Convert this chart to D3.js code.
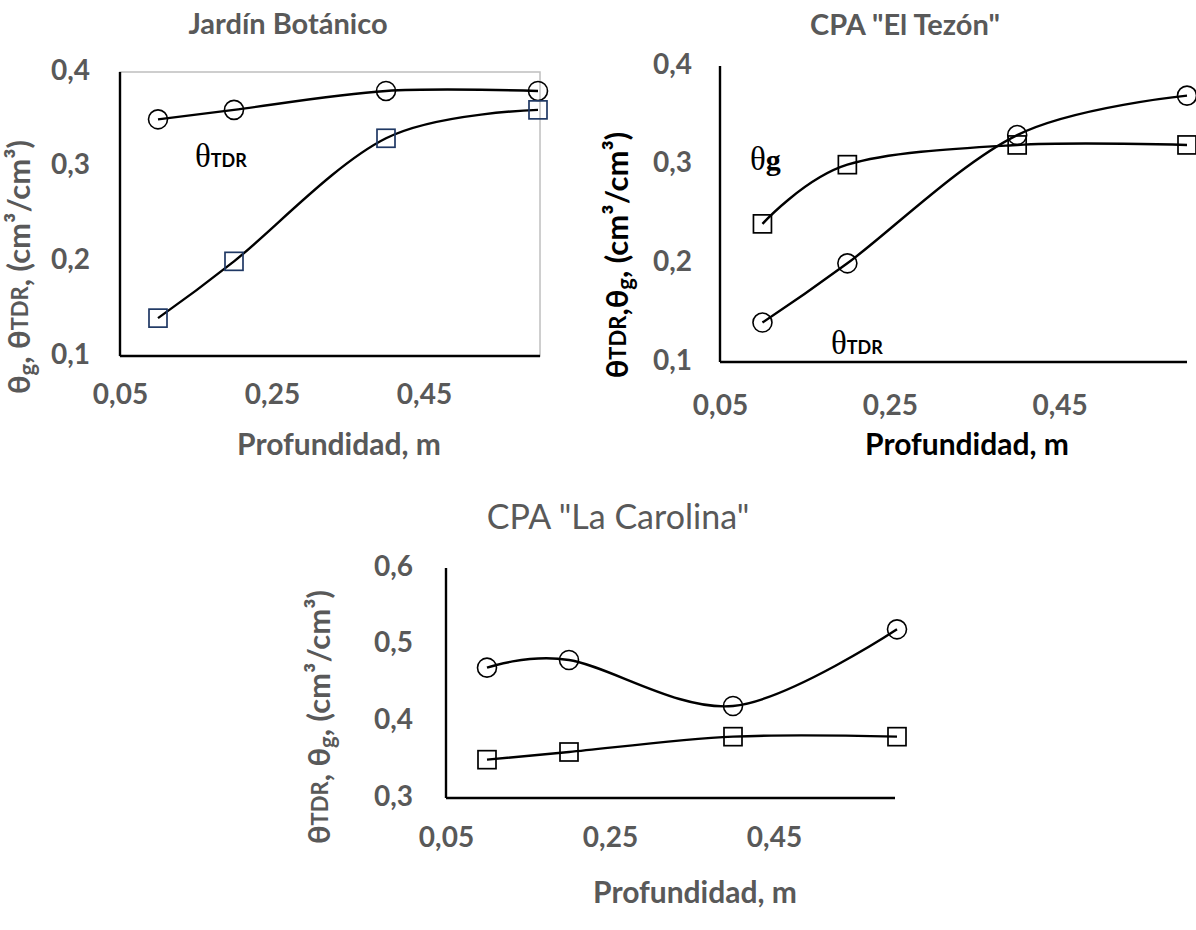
<!DOCTYPE html>
<html>
<head>
<meta charset="utf-8">
<script src="https://cdn.jsdelivr.net/npm/d3@7"></script>
<style>
  body { margin: 0; background: #fff; }
  svg { display: block; }
</style>
</head>
<body>
<svg id="chart" width="1196" height="930"></svg>
<script>
// datos (profundidad en m, contenido de agua en cm3/cm3)
const profundidad = [0.1, 0.2, 0.4, 0.6];
const xTicks = [0.05, 0.25, 0.45];

const jardinTDR = [0.35, 0.36, 0.38, 0.38];
const jardinG = [0.14, 0.20, 0.33, 0.36];

const tezonTDR = [0.14, 0.20, 0.33, 0.37];
const tezonG = [0.24, 0.30, 0.32, 0.32];

const carolinaTDR = [0.47, 0.48, 0.42, 0.52];
const carolinaG = [0.35, 0.36, 0.38, 0.38];

const yTicksA = [0.1, 0.2, 0.3, 0.4];
const yTicksB = [0.3, 0.4, 0.5, 0.6];

const gris = "#595959";
const fuente = "Lato, 'Open Sans', sans-serif";
const serif = "'Liberation Serif', 'DejaVu Serif', serif";
const fmt = d => String(d).replace(".", ",");

const svg = d3.select("#chart");

function dibujarPanel(cfg) {
    const g = svg.append("g");

    const x = d3.scaleLinear().domain([0.05, 0.6]).range([cfg.left, cfg.right]);
    const y = d3.scaleLinear().domain(cfg.yDomain).range([cfg.bottom, cfg.top]);

    // Borde gris del área de trazado (solo primer panel)
    if (cfg.borde) {
        g.append("rect")
            .attr("x", cfg.left).attr("y", cfg.top)
            .attr("width", cfg.right - cfg.left + 2).attr("height", cfg.bottom - cfg.top)
            .attr("fill", "none").attr("stroke", "#bfbfbf").attr("stroke-width", 1.5);
    }

    // Ejes
    const ejeX = d3.axisBottom(x).tickValues(xTicks).tickSize(0).tickFormat(fmt);
    const ejeY = d3.axisLeft(y).tickValues(cfg.yTicks).tickSize(0).tickFormat(fmt);

    const gx = g.append("g").attr("transform", `translate(0,${cfg.bottom})`).call(ejeX);
    gx.select(".domain").attr("stroke", "#000").attr("stroke-width", 2.4)
        .attr("d", `M${cfg.left},0H${cfg.axisEnd}`);
    gx.selectAll("text")
        .attr("dy", null).attr("y", cfg.xTickY)
        .attr("dominant-baseline", "middle")
        .style("font-family", fuente).style("font-weight", "bold")
        .style("font-size", "28px").attr("fill", gris);

    const gy = g.append("g").attr("transform", `translate(${cfg.left},0)`).call(ejeY);
    gy.select(".domain").attr("stroke", "#000").attr("stroke-width", 2.4)
        .attr("d", `M0,${cfg.bottom}V${cfg.top}`);
    gy.selectAll("text")
        .attr("dy", null).attr("x", cfg.yTickX)
        .attr("dominant-baseline", "middle")
        .style("font-family", fuente).style("font-weight", "bold")
        .style("font-size", "28px").attr("fill", gris);

    // Curvas suavizadas
    const linea = d3.line()
        .x((d, i) => x(profundidad[i]))
        .y(d => y(d))
        .curve(d3.curveCardinal.tension(0));

    [cfg.circulos, cfg.cuadrados].forEach(serie => {
        g.append("path")
            .attr("d", linea(serie))
            .attr("fill", "none")
            .attr("stroke", "#000")
            .attr("stroke-width", 2.4);
    });

    // Marcadores
    g.selectAll(".circ")
        .data(cfg.circulos)
        .join("circle")
        .attr("cx", (d, i) => x(profundidad[i]))
        .attr("cy", d => y(d))
        .attr("r", 9.5)
        .attr("fill", "none")
        .attr("stroke", "#000")
        .attr("stroke-width", 1.6);

    g.selectAll(".cuad")
        .data(cfg.cuadrados)
        .join("rect")
        .attr("x", (d, i) => x(profundidad[i]) - 9)
        .attr("y", d => y(d) - 9)
        .attr("width", 18)
        .attr("height", 18)
        .attr("fill", "none")
        .attr("stroke", cfg.colorCuadro)
        .attr("stroke-width", 1.7);

    // Título
    g.append("text")
        .attr("x", cfg.titulo.x).attr("y", cfg.titulo.y)
        .attr("text-anchor", "middle").attr("dominant-baseline", "middle")
        .style("font-family", fuente)
        .style("font-weight", cfg.titulo.bold ? "bold" : "normal")
        .style("font-size", cfg.titulo.size + "px")
        .attr("fill", gris)
        .text(cfg.titulo.text);

    // Título eje X
    g.append("text")
        .attr("x", cfg.xTitulo.x).attr("y", cfg.xTitulo.y)
        .attr("text-anchor", "middle").attr("dominant-baseline", "middle")
        .style("font-family", fuente).style("font-weight", "bold")
        .style("font-size", "30px")
        .attr("fill", cfg.xTitulo.color)
        .text("Profundidad, m");

    // Título eje Y (rotado)
    const ty = g.append("text")
        .attr("transform", `translate(${cfg.yTitulo.x},${cfg.yTitulo.y}) rotate(-90)`)
        .attr("text-anchor", "middle").attr("dominant-baseline", "middle")
        .style("font-family", fuente).style("font-weight", "bold")
        .style("font-size", "31px")
        .attr("fill", cfg.yTitulo.color);
    cfg.yTitulo.partes.forEach(p => {
        const t = ty.append("tspan").text(p.t);
        if (p.sub) t.style("font-size", "22px").attr("dy", 7);
        if (p.small) t.style("font-size", "22px");
        if (p.back) t.attr("dy", -7);
    });

    // Etiquetas de series dentro del gráfico
    cfg.etiquetas.forEach(e => {
        const t = g.append("text")
            .attr("x", e.x).attr("y", e.y)
            .attr("fill", "#000");
        t.append("tspan").text("θ")
            .style("font-family", serif)
            .style("font-size", "33px");
        t.append("tspan").text(e.sub)
            .style("font-family", e.sub === "g" ? serif : fuente)
            .style("font-weight", "bold")
            .style("font-size", e.sub === "g" ? "30px" : "18px");
    });
}

const tituloY1 = [
    {t: "θ"}, {t: "g", sub: true}, {t: ", θ", back: true}, {t: "TDR", small: true}, {t: ", (cm³/cm³)"}
];
const tituloY2 = [
    {t: "θ"}, {t: "TDR", small: true}, {t: ",θ"}, {t: "g", sub: true}, {t: ", (cm³/cm³)", back: true}
];
const tituloY3 = [
    {t: "θ"}, {t: "TDR", small: true}, {t: ", θ"}, {t: "g", sub: true}, {t: ", (cm³/cm³)", back: true}
];

dibujarPanel({
    left: 120, right: 538, top: 72, bottom: 356, axisEnd: 540,
    yDomain: [0.1, 0.4], yTicks: yTicksA, yTickX: -30, xTickY: 41,
    borde: true, colorCuadro: "#1f3864",
    circulos: jardinTDR, cuadrados: jardinG,
    titulo: {text: "Jardín Botánico", x: 288, y: 27, size: 29, bold: true},
    xTitulo: {x: 339, y: 447, color: gris},
    yTitulo: {x: 22, y: 267, color: gris, partes: tituloY1},
    etiquetas: [{x: 195, y: 167, sub: "TDR"}]
});

dibujarPanel({
    left: 720, right: 1187, top: 66, bottom: 362, axisEnd: 1187,
    yDomain: [0.1, 0.4], yTicks: yTicksA, yTickX: -28, xTickY: 46,
    borde: false, colorCuadro: "#000",
    circulos: tezonTDR, cuadrados: tezonG,
    titulo: {text: "CPA \"El Tezón\"", x: 905, y: 28, size: 29, bold: true},
    xTitulo: {x: 967, y: 447, color: "#000"},
    yTitulo: {x: 620, y: 255, color: "#000", partes: tituloY2},
    etiquetas: [{x: 750, y: 170, sub: "g"}, {x: 831, y: 354, sub: "TDR"}]
});

dibujarPanel({
    left: 446, right: 897, top: 568, bottom: 798, axisEnd: 895,
    yDomain: [0.3, 0.6], yTicks: yTicksB, yTickX: -33, xTickY: 42,
    borde: false, colorCuadro: "#000",
    circulos: carolinaTDR, cuadrados: carolinaG,
    titulo: {text: "CPA \"La Carolina\"", x: 618, y: 520, size: 34, bold: false},
    xTitulo: {x: 695, y: 895, color: gris},
    yTitulo: {x: 322, y: 717, color: gris, partes: tituloY3},
    etiquetas: []
});
</script>
</body>
</html>
